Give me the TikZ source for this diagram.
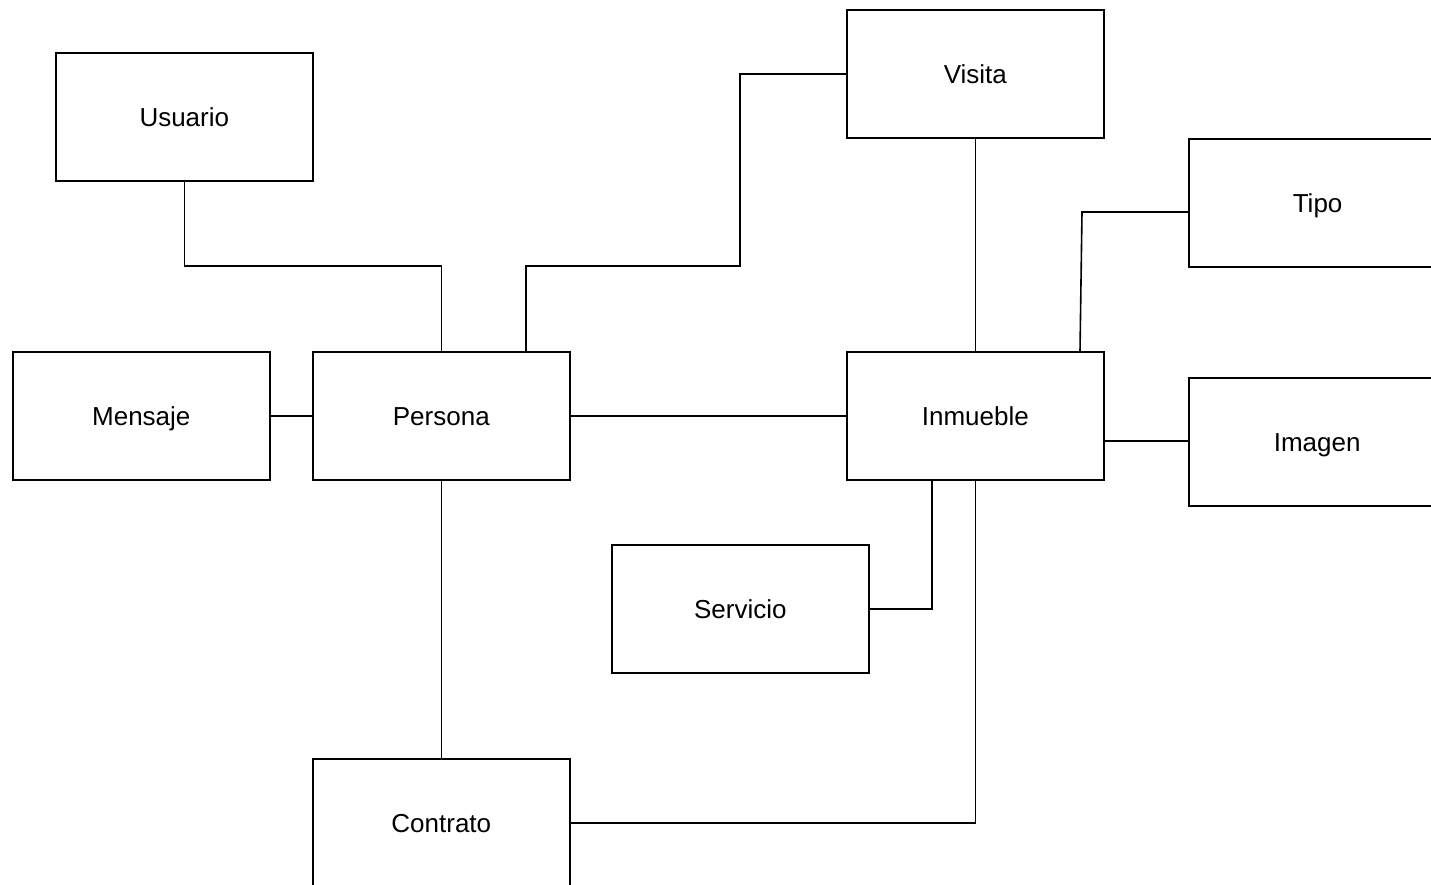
\documentclass[tikz,border=0pt]{standalone}
\usepackage{fontspec}
\setmainfont{Liberation Sans}
\begin{document}
\begin{tikzpicture}[x=1pt,y=-1pt,
  entity/.style={draw=black,line width=1.6pt,fill=white,minimum width=257pt,minimum height=128pt,inner sep=0pt,font=\fontsize{26}{30}\selectfont,text height=18.5pt,text depth=0pt,anchor=north west},
  link/.style={draw=black,line width=1.6pt}]
\useasboundingbox (0,0) rectangle (1431,884);
\clip (0,0) rectangle (1431,884);
% nodes (top-left corners in pixels)
\node[entity] (usuario) at (55,52) {Usuario};
\node[entity] (mensaje) at (12,351) {Mensaje};
\node[entity] (persona) at (312,351) {Persona};
\node[entity] (visita) at (846,9) {Visita};
\node[entity] (inmueble) at (846,351) {Inmueble};
\node[entity,minimum width=260pt,text width=254pt,align=left] (tipo) at (1188,138) {\hspace*{101pt}Tipo};
\node[entity,minimum width=260pt,text width=254pt,align=left] (imagen) at (1188,377) {\hspace*{82pt}Imagen};
\node[entity] (servicio) at (611,544) {Servicio};
\node[entity] (contrato) at (312,758) {Contrato};
% attachment coordinates
\coordinate (uBend) at (persona.north |- 0,266);
\coordinate (pTop2) at (526,351);
\coordinate (iTop2) at (1080,351);
\coordinate (iBot1) at (932,480);
\coordinate (cRight) at (569,822);
\coordinate (iRight) at (1104,441);
% connectors
\draw[link] (usuario.south) |- (uBend) -- (persona.north);
\draw[link] (mensaje.east) -- (persona.west);
\draw[link] (pTop2) |- (740,266) |- (visita.west);
\draw[link] (persona.east) -- (inmueble.west);
\draw[link] (visita.south) -- (inmueble.north);
\draw[link] (iTop2) -- (1082,212) -- (tipo.west |- 0,212);
\draw[link] (iRight) -- (imagen.west |- iRight);
\draw[link] (iBot1) |- (servicio.east);
\draw[link] (persona.south) -- (contrato.north);
\draw[link] (inmueble.south) |- (contrato.east);
\end{tikzpicture}
\end{document}
